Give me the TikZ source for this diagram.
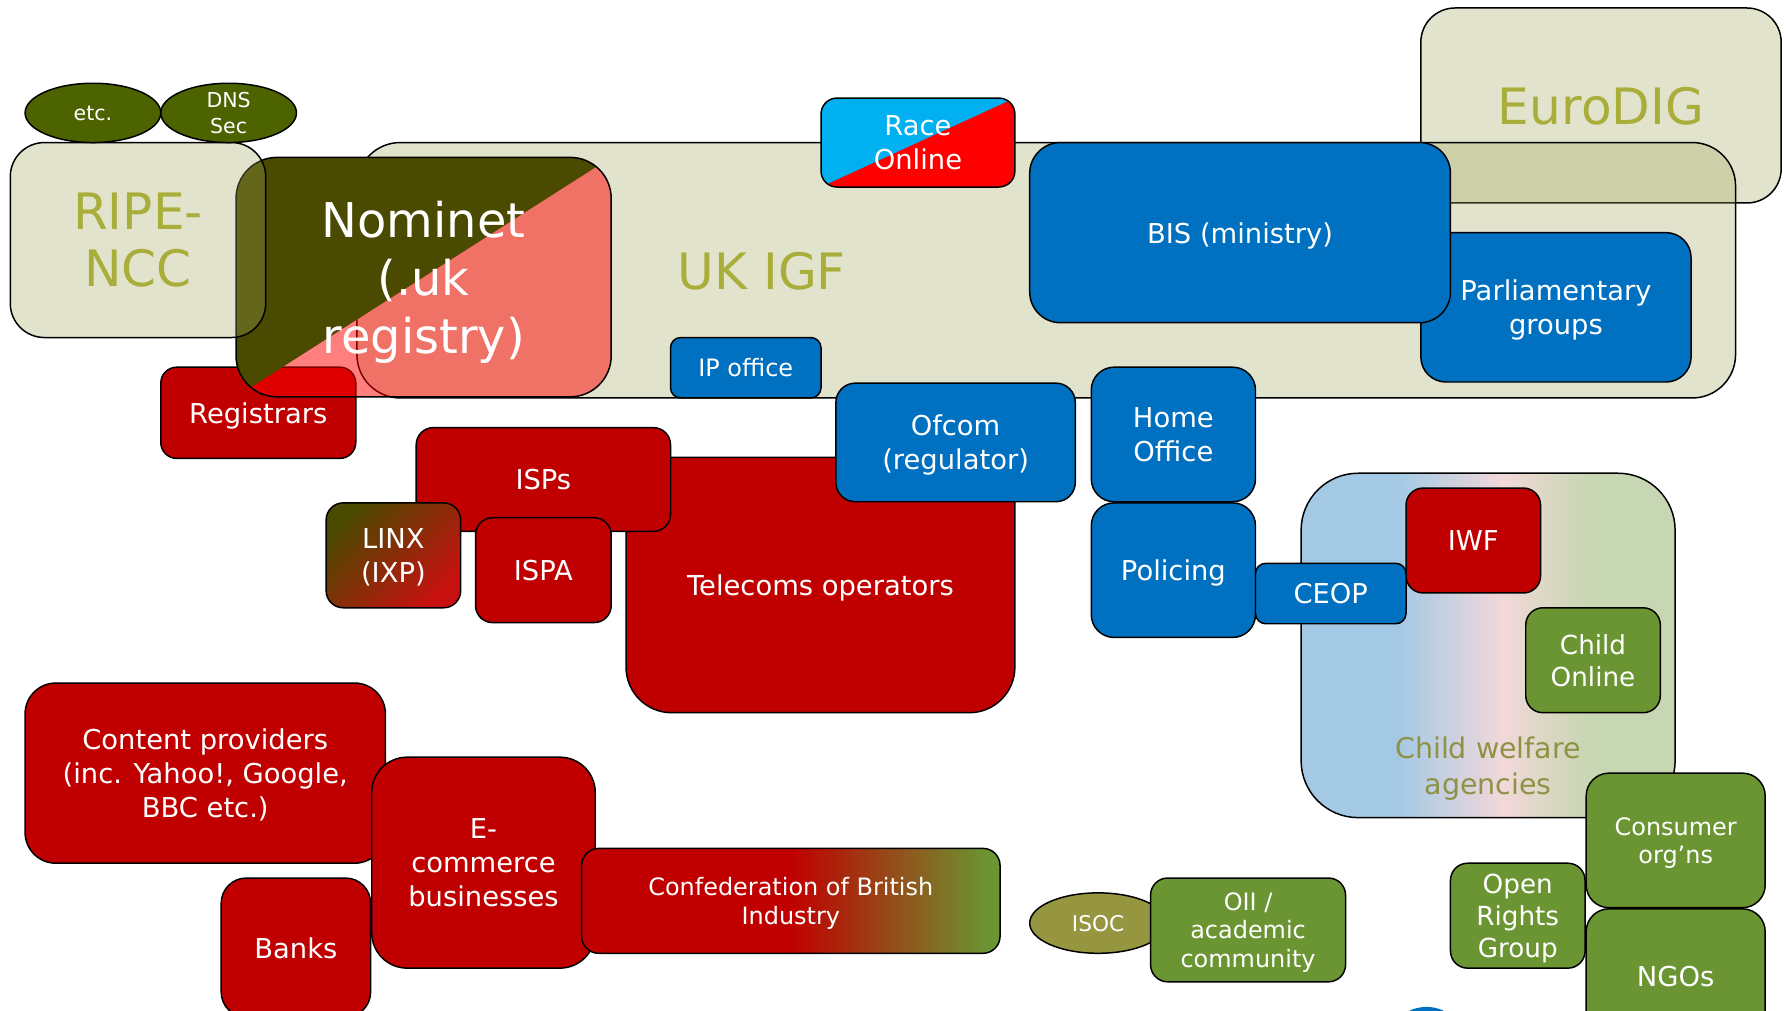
\documentclass[tikz,border=0pt]{standalone}
\usepackage{fontspec}
\setmainfont{DejaVu Sans}
\usetikzlibrary{shapes.geometric}

\definecolor{orgred}{HTML}{C00000}
\definecolor{orgblue}{HTML}{0070C0}
\definecolor{orggreen}{HTML}{6B9532}
\definecolor{areabeige}{HTML}{A0A55A}
\definecolor{labelolive}{HTML}{A9AE3B}
\definecolor{welfareolive}{HTML}{8F9245}
\definecolor{nomolive}{HTML}{4A4A00}
\definecolor{bubbleolive}{HTML}{4D6300}
\definecolor{isocolive}{HTML}{969641}
\definecolor{linxred}{HTML}{C81010}
\definecolor{racecyan}{HTML}{00B0F0}
\definecolor{racered}{HTML}{FF0000}
\definecolor{cwblue}{HTML}{A3C9E5}
\definecolor{cwpink}{HTML}{F2D8D9}
\definecolor{cwgreen}{HTML}{C8D7B3}

\pgfdeclarehorizontalshading{cwashade}{100bp}{color(0bp)=(cwblue); color(37.8bp)=(cwblue); color(52bp)=(cwpink); color(63bp)=(cwgreen); color(100bp)=(cwgreen)}
\pgfdeclarehorizontalshading{cbishade}{100bp}{color(0bp)=(orgred); color(50bp)=(orgred); color(73.5bp)=(orggreen); color(100bp)=(orggreen)}

\newcommand{\boxfont}{\fontsize{24}{30}\selectfont}
\newcommand{\smallboxfont}{\fontsize{21}{25}\selectfont}
\newcommand{\orgfont}{\fontsize{23}{28}\selectfont}
\newcommand{\tinyboxfont}{\fontsize{18}{22}\selectfont}
\newcommand{\isocfont}{\fontsize{19}{22}\selectfont}
\newcommand{\welfarefont}{\fontsize{25}{31}\selectfont}
\newcommand{\nomfont}{\fontsize{42}{51}\selectfont}
\newcommand{\groupfont}{\fontsize{44}{50}\selectfont}

\begin{document}
\begin{tikzpicture}[
	x=1pt, y=-1pt,
	box/.style={
		draw=black, line width=1.3pt,
		rounded corners=15pt,
		align=center, text=white,
		font=\boxfont, inner sep=2pt,
		text depth=0pt,
	},
	redbox/.style={box, fill=orgred},
	bluebox/.style={box, fill=orgblue},
	greenbox/.style={box, fill=orggreen},
	area/.style={
		box, fill=areabeige, fill opacity=0.31, text opacity=1,
		text=labelolive, font=\groupfont,
	},
	bubble/.style={
		ellipse, draw=black, line width=1.3pt,
		inner sep=0pt, align=center, text=white,
		font=\tinyboxfont, text depth=0pt,
	},
	grouplabel/.style={align=center, text=labelolive, font=\groupfont},
]

\useasboundingbox (0,0) rectangle (1568,886);
\clip (0,0) rectangle (1568,886);

% forums
\node[area, minimum width=316pt, minimum height=171pt, rounded corners=30pt] (eurodig) at (1404,92.5) {EuroDIG};
\node[area, minimum width=1209pt, minimum height=224pt, rounded corners=38pt] (ukigf) at (917.5,237) {};
\node[grouplabel] (ukigflabel) at (668,238) {UK IGF};

% naming and numbering
\node[redbox, minimum width=171pt, minimum height=80pt, rounded corners=14pt] (registrars) at (226.5,362) {Registrars};
\node[box, font=\nomfont, minimum width=329pt, minimum height=210pt, rounded corners=36pt,
	path picture={
		\fill[nomolive, sharp corners] (path picture bounding box.north west) -- (path picture bounding box.north east) -- (path picture bounding box.south west) -- cycle;
		\fill[racered, fill opacity=0.5, sharp corners] (path picture bounding box.north east) -- (path picture bounding box.south east) -- (path picture bounding box.south west) -- cycle;
	}] (nominet) at (371.5,243) {Nominet\\(.uk\\registry)};
\node[area, minimum width=224pt, minimum height=171pt, rounded corners=30pt] (ripe) at (121,210.5) {RIPE-\\NCC};
\node[bubble, fill=bubbleolive, minimum width=119pt, minimum height=52pt] (etc) at (81.5,99) {etc.};
\node[bubble, fill=bubbleolive, minimum width=119pt, minimum height=52pt] (dnssec) at (200.5,99) {DNS\\Sec};

% government
\node[box, fill=racecyan, minimum width=170pt, minimum height=78pt, rounded corners=14pt,
	path picture={
		\fill[racered, sharp corners] (path picture bounding box.south west) -- (path picture bounding box.north east) -- (path picture bounding box.south east) -- cycle;
	}] (raceonline) at (805,125) {Race\\Online};
\node[bluebox, minimum width=237pt, minimum height=131pt, rounded corners=22pt] (parliament) at (1364.5,269.5) {Parliamentary\\groups};
\node[bluebox, minimum width=369pt, minimum height=158pt, rounded corners=27pt] (bis) at (1087.5,204) {BIS (ministry)};
\node[bluebox, font=\smallboxfont, minimum width=132pt, minimum height=53pt, rounded corners=9pt] (ipoffice) at (654,322.5) {IP office};

% network industry
\node[redbox, minimum width=341pt, minimum height=224pt, rounded corners=40pt] (telecoms) at (719.5,513) {Telecoms operators};
\node[redbox, minimum width=223pt, minimum height=91pt] (isps) at (476.5,420.5) {ISPs};
\node[bluebox, minimum width=210pt, minimum height=104pt, rounded corners=17pt] (ofcom) at (838,388) {Ofcom\\(regulator)};
\node[redbox, minimum width=119pt, minimum height=92pt] (ispa) at (476.5,500) {ISPA};
\node[box, top color=nomolive, bottom color=linxred, shading angle=45, minimum width=118pt, minimum height=92pt] (linx) at (345,487) {LINX\\(IXP)};

% policing and child protection
\node[bluebox, minimum width=144pt, minimum height=118pt, rounded corners=20pt] (homeoffice) at (1029,381) {Home\\Office};
\node[bluebox, minimum width=144pt, minimum height=118pt, rounded corners=20pt] (policing) at (1029,500) {Policing};
\node[box, shading=cwashade, minimum width=328pt, minimum height=302pt, rounded corners=50pt] (welfare) at (1305,566) {};
\node[align=center, text=welfareolive, font=\welfarefont] (welfarelabel) at (1305,674) {Child welfare\\agencies};
\node[redbox, minimum width=118pt, minimum height=92pt] (iwf) at (1292,474) {IWF};
\node[greenbox, font=\orgfont, minimum width=118pt, minimum height=92pt] (childonline) at (1397,579) {Child\\Online};
\node[bluebox, minimum width=132pt, minimum height=53pt, rounded corners=9pt] (ceop) at (1167,520.5) {CEOP};

% civil society
\node[greenbox, font=\smallboxfont, minimum width=157pt, minimum height=118pt, rounded corners=20pt] (consumer) at (1469.5,737) {Consumer\\org’ns};
\node[greenbox, minimum width=157pt, minimum height=118pt, rounded corners=20pt] (ngos) at (1469.5,856) {NGOs};
\node[greenbox, font=\orgfont, minimum width=118pt, minimum height=92pt] (openrights) at (1331,803) {Open\\Rights\\Group};
\node[bubble, fill=isocolive, font=\isocfont, minimum width=120pt, minimum height=53pt] (isoc) at (963,809.5) {ISOC};
\node[greenbox, font=\smallboxfont, minimum width=171pt, minimum height=91pt] (oii) at (1094.5,815.5) {OII /\\academic\\community};
\node[circle, fill=orgblue, minimum size=70pt, inner sep=0pt] (stub) at (1251,918) {};

% business
\node[redbox, minimum width=316pt, minimum height=158pt, rounded corners=27pt] (content) at (180,678) {Content providers\\(inc. Yahoo!, Google,\\BBC etc.)};
\node[redbox, minimum width=131pt, minimum height=122pt, rounded corners=22pt] (banks) at (259.5,831) {Banks};
\node[redbox, minimum width=196pt, minimum height=185pt, rounded corners=31pt] (ecommerce) at (424,756.5) {E-\\commerce\\businesses};
\node[box, shading=cbishade, font=\smallboxfont, minimum width=367pt, minimum height=92pt] (cbi) at (693.5,790) {Confederation of British\\Industry};

\end{tikzpicture}
\end{document}
